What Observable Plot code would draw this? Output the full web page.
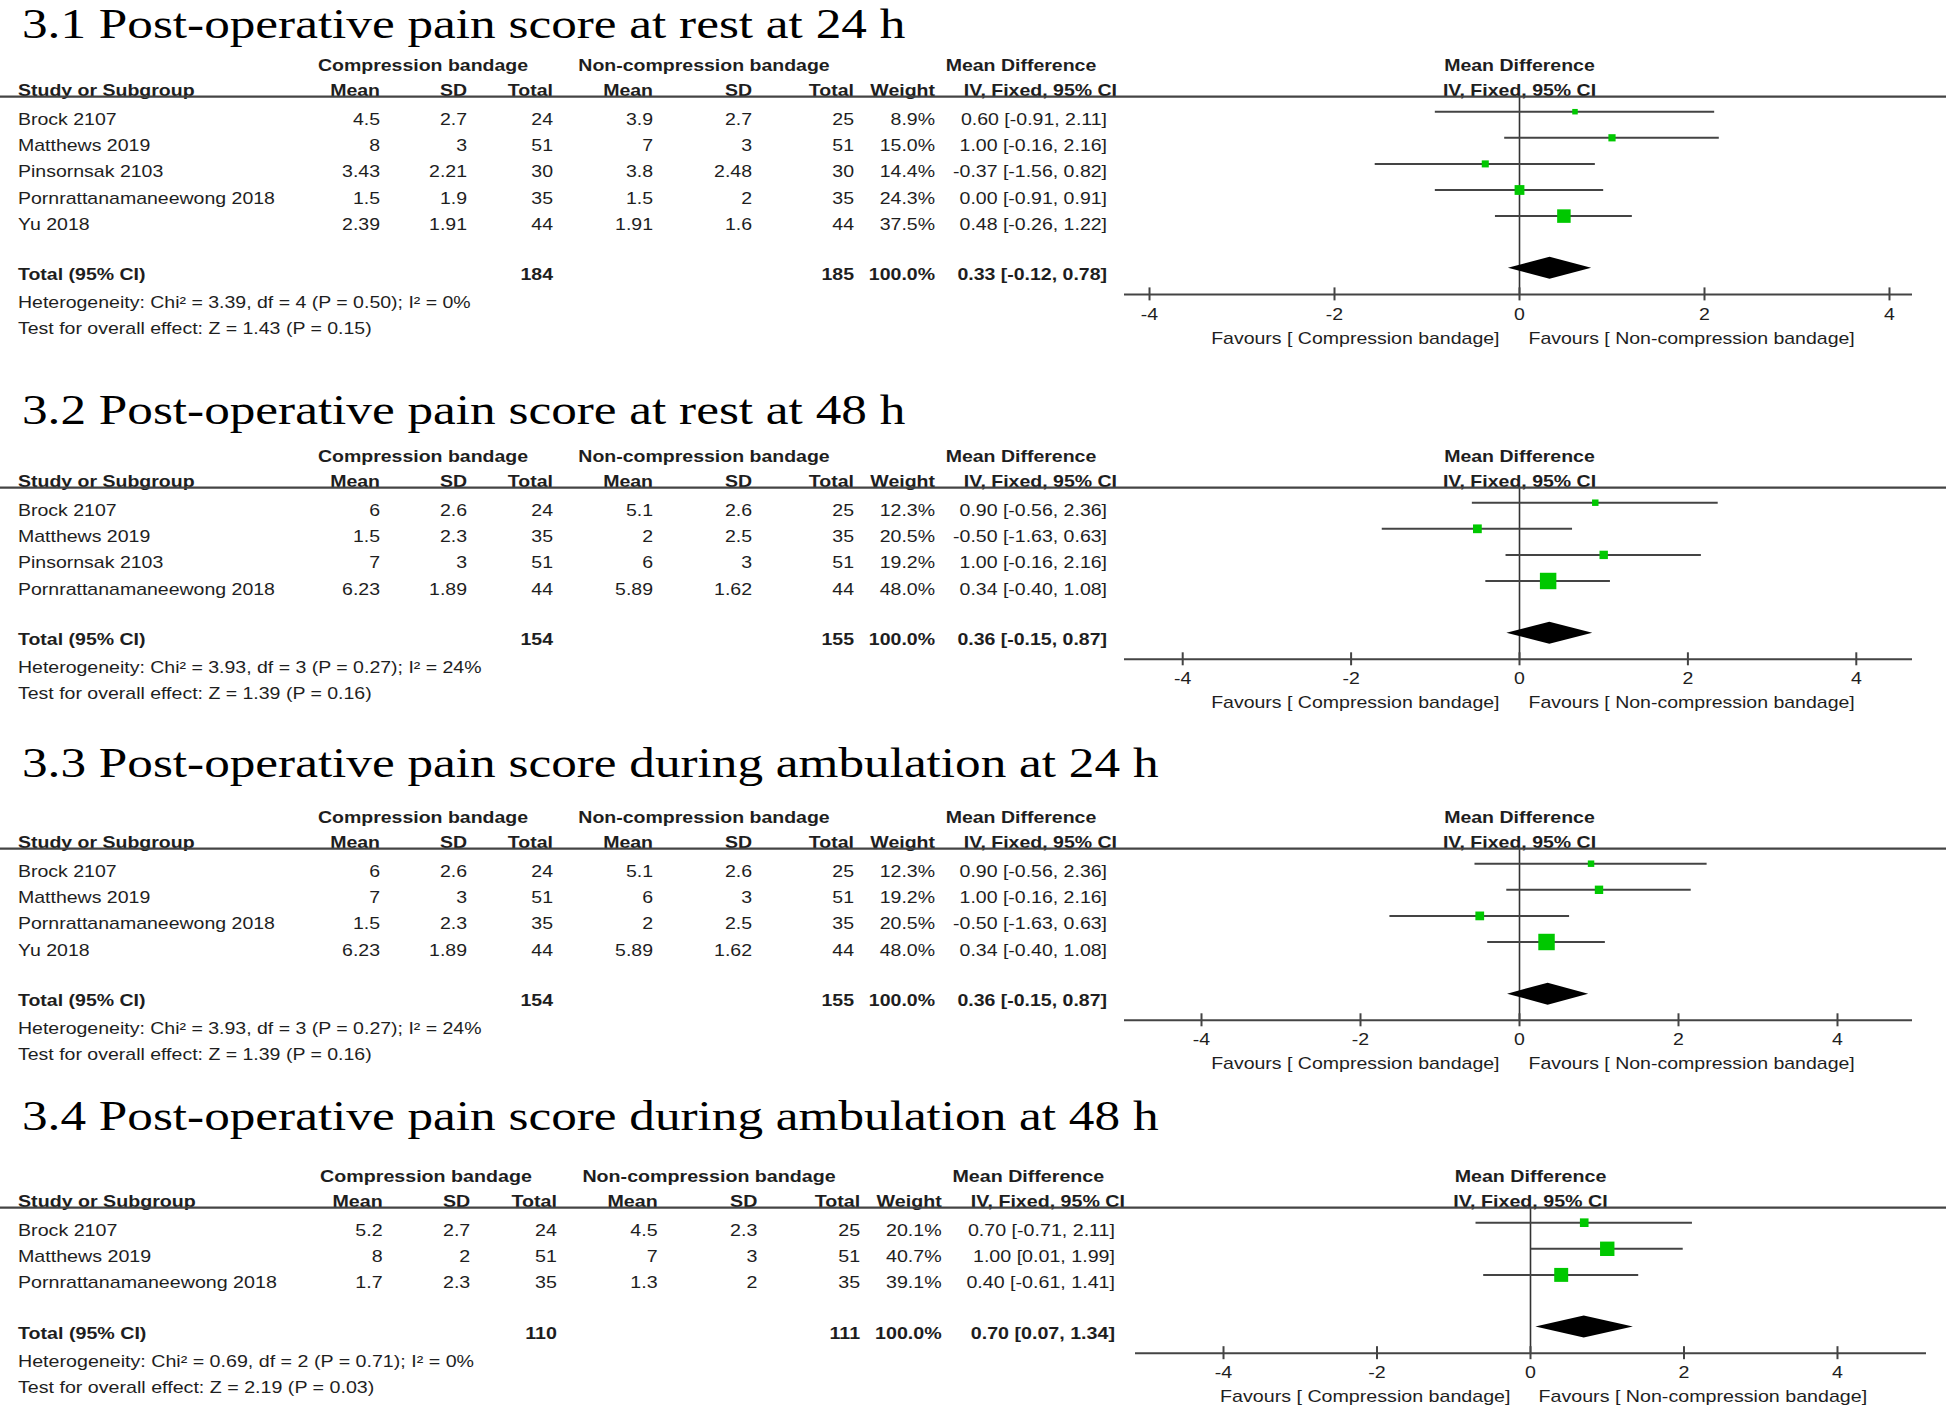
<!DOCTYPE html>
<html><head><meta charset="utf-8">
<script src="https://cdn.jsdelivr.net/npm/d3@7"></script>
<script src="https://cdn.jsdelivr.net/npm/@observablehq/plot@0.6"></script>
<style>
html,body{margin:0;padding:0;background:#fff;}
#fig{position:relative;width:1946px;height:1422px;overflow:hidden;background:#fff;}
</style></head><body><div id="fig"></div>
<script>
// ---------------- DATA ----------------
const titles = [
  "3.1 Post-operative pain score at rest at 24 h",
  "3.2 Post-operative pain score at rest at 48 h",
  "3.3 Post-operative pain score during ambulation at 24 h",
  "3.4 Post-operative pain score during ambulation at 48 h"
];
const groupHeaders = ["Compression bandage", "Non-compression bandage", "Mean Difference"];
const colHeaders = ["Study or Subgroup", "Mean", "SD", "Total", "Mean", "SD", "Total", "Weight", "IV, Fixed, 95% CI"];
const effectLabel = "Mean Difference";
const methodLabel = "IV, Fixed, 95% CI";
const totalLabel = "Total (95% CI)";
const favoursLeft = "Favours [ Compression bandage]";
const favoursRight = "Favours [ Non-compression bandage]";
const xTicks = [-4, -2, 0, 2, 4];

// 3.1
const studies1 = ["Brock 2107", "Matthews 2019", "Pinsornsak 2103", "Pornrattanamaneewong 2018", "Yu 2018"];
const compMean1 = [4.5, 8, 3.43, 1.5, 2.39];
const compSD1 = [2.7, 3, 2.21, 1.9, 1.91];
const compN1 = [24, 51, 30, 35, 44];
const nonMean1 = [3.9, 7, 3.8, 1.5, 1.91];
const nonSD1 = [2.7, 3, 2.48, 2, 1.6];
const nonN1 = [25, 51, 30, 35, 44];
const weight1 = [8.9, 15.0, 14.4, 24.3, 37.5];
const md1 = [0.60, 1.00, -0.37, 0.00, 0.48];
const lo1 = [-0.91, -0.16, -1.56, -0.91, -0.26];
const hi1 = [2.11, 2.16, 0.82, 0.91, 1.22];
const total1 = [184, 185, 100.0, 0.33, -0.12, 0.78]; // compN, nonN, weight, md, lo, hi
const het1 = "Heterogeneity: Chi\u00b2 = 3.39, df = 4 (P = 0.50); I\u00b2 = 0%";
const test1 = "Test for overall effect: Z = 1.43 (P = 0.15)";

// 3.2
const studies2 = ["Brock 2107", "Matthews 2019", "Pinsornsak 2103", "Pornrattanamaneewong 2018"];
const compMean2 = [6, 1.5, 7, 6.23];
const compSD2 = [2.6, 2.3, 3, 1.89];
const compN2 = [24, 35, 51, 44];
const nonMean2 = [5.1, 2, 6, 5.89];
const nonSD2 = [2.6, 2.5, 3, 1.62];
const nonN2 = [25, 35, 51, 44];
const weight2 = [12.3, 20.5, 19.2, 48.0];
const md2 = [0.90, -0.50, 1.00, 0.34];
const lo2 = [-0.56, -1.63, -0.16, -0.40];
const hi2 = [2.36, 0.63, 2.16, 1.08];
const total2 = [154, 155, 100.0, 0.36, -0.15, 0.87];
const het2 = "Heterogeneity: Chi\u00b2 = 3.93, df = 3 (P = 0.27); I\u00b2 = 24%";
const test2 = "Test for overall effect: Z = 1.39 (P = 0.16)";

// 3.3
const studies3 = ["Brock 2107", "Matthews 2019", "Pornrattanamaneewong 2018", "Yu 2018"];
const compMean3 = [6, 7, 1.5, 6.23];
const compSD3 = [2.6, 3, 2.3, 1.89];
const compN3 = [24, 51, 35, 44];
const nonMean3 = [5.1, 6, 2, 5.89];
const nonSD3 = [2.6, 3, 2.5, 1.62];
const nonN3 = [25, 51, 35, 44];
const weight3 = [12.3, 19.2, 20.5, 48.0];
const md3 = [0.90, 1.00, -0.50, 0.34];
const lo3 = [-0.56, -0.16, -1.63, -0.40];
const hi3 = [2.36, 2.16, 0.63, 1.08];
const total3 = [154, 155, 100.0, 0.36, -0.15, 0.87];
const het3 = "Heterogeneity: Chi\u00b2 = 3.93, df = 3 (P = 0.27); I\u00b2 = 24%";
const test3 = "Test for overall effect: Z = 1.39 (P = 0.16)";

// 3.4
const studies4 = ["Brock 2107", "Matthews 2019", "Pornrattanamaneewong 2018"];
const compMean4 = [5.2, 8, 1.7];
const compSD4 = [2.7, 2, 2.3];
const compN4 = [24, 51, 35];
const nonMean4 = [4.5, 7, 1.3];
const nonSD4 = [2.3, 3, 2];
const nonN4 = [25, 51, 35];
const weight4 = [20.1, 40.7, 39.1];
const md4 = [0.70, 1.00, 0.40];
const lo4 = [-0.71, 0.01, -0.61];
const hi4 = [2.11, 1.99, 1.41];
const total4 = [110, 111, 100.0, 0.70, 0.07, 1.34];
const het4 = "Heterogeneity: Chi\u00b2 = 0.69, df = 2 (P = 0.71); I\u00b2 = 0%";
const test4 = "Test for overall effect: Z = 2.19 (P = 0.03)";

// ---------------- LAYOUT ----------------
const W = 1946, H = 1422;
const SANS = "'Liberation Sans', Arial, Helvetica, sans-serif";
const SERIF = "'Liberation Serif', 'Times New Roman', Times, serif";
const INK = "#1e1e1e";
const LINE = "#444";
const GREEN = "#00c800";
const FS = 16, STRETCH = 1.22;
const TITLE_FS = 42, TITLE_X = 22;
const PITCH = 26.1, ROW0 = 111.2, TEXT_DY = 8.3;
const HEAD1 = 65, HEAD2 = 90.5, RULE = 96.7;
const TOTAL_SHIFT = -1.5, HET_GAP = 27.8, TEST_GAP = 25.6;
const TICK = 6.5, TICKLAB = 20, FAVLAB = 44;
const DIAMOND_H = 11;
const FOREST_X0 = 1100, FOREST_TOP = 40, FOREST_BOTTOM = 60;

const panelTop = [0, 391, 752, 1111];
const titleBase = [38, 424, 777, 1130];
const colScale = [1, 1, 1, 1.0073];
const forestZero = [1519, 1519, 1519, 1530];
const forestUnit = [92.5, 84.2, 79.5, 76.75];
const forestLeft = [1124, 1124, 1124, 1135];
const forestRight = [1912, 1912, 1912, 1926];
const favGapL = [20, 20, 20, 20];
const favGapR = [9, 9, 9, 8];
const colX = {study: 18, cMean: 380, cSD: 467, cN: 553, nMean: 653, nSD: 752, nN: 854, weight: 935,
  ci: 1107, ciHead: 1117, compHead: 423, nonHead: 704, mdHead: 1021};

const panels = [
  {studies: studies1, cm: compMean1, cs: compSD1, cn: compN1, nm: nonMean1, ns: nonSD1, nn: nonN1, w: weight1, md: md1, lo: lo1, hi: hi1, total: total1, het: het1, test: test1},
  {studies: studies2, cm: compMean2, cs: compSD2, cn: compN2, nm: nonMean2, ns: nonSD2, nn: nonN2, w: weight2, md: md2, lo: lo2, hi: hi2, total: total2, het: het2, test: test2},
  {studies: studies3, cm: compMean3, cs: compSD3, cn: compN3, nm: nonMean3, ns: nonSD3, nn: nonN3, w: weight3, md: md3, lo: lo3, hi: hi3, total: total3, het: het3, test: test3},
  {studies: studies4, cm: compMean4, cs: compSD4, cn: compN4, nm: nonMean4, ns: nonSD4, nn: nonN4, w: weight4, md: md4, lo: lo4, hi: hi4, total: total4, het: het4, test: test4}
];

const fig = d3.select("#fig");
const f2 = v => v.toFixed(2);
const ciText = (m, l, h) => `${f2(m)} [${f2(l)}, ${f2(h)}]`;

function stretchTexts(svgNode, k) {
  svgNode.querySelectorAll("text").forEach(t => {
    const tr = t.getAttribute("transform");
    if (tr) t.setAttribute("transform", tr + ` scale(${k},1)`);
    else {
      const x = +t.getAttribute("x") || 0, y = +t.getAttribute("y") || 0;
      t.removeAttribute("x"); t.removeAttribute("y");
      t.setAttribute("transform", `translate(${x},${y}) scale(${k},1)`);
    }
  });
}

// ---------------- FOREST PLOTS (Observable Plot) ----------------
panels.forEach((pd, p) => {
  const rows = pd.studies.map((s, i) => ({i, study: s, md: pd.md[i], lo: pd.lo[i], hi: pd.hi[i], w: pd.w[i]}));
  const n = rows.length, totIdx = n + 1, axisIdx = n + 2;
  const [, , , tmd, tlo, thi] = pd.total;
  const dh = DIAMOND_H / PITCH;
  const diamond = [
    {x: tlo, y1: totIdx, y2: totIdx},
    {x: tmd, y1: totIdx - dh, y2: totIdx + dh},
    {x: thi, y1: totIdx, y2: totIdx}
  ];
  const xDom = [(forestLeft[p] - forestZero[p]) / forestUnit[p], (forestRight[p] - forestZero[p]) / forestUnit[p]];
  const mTop = ROW0 - FOREST_TOP;
  const height = mTop + PITCH * axisIdx + FOREST_BOTTOM;
  const width = W - FOREST_X0;
  const plot = Plot.plot({
    width, height,
    marginLeft: forestLeft[p] - FOREST_X0, marginRight: W - forestRight[p],
    marginTop: mTop, marginBottom: FOREST_BOTTOM,
    x: {domain: xDom, range: [forestLeft[p] - FOREST_X0, forestRight[p] - FOREST_X0], axis: null},
    y: {domain: [0, axisIdx], range: [mTop, mTop + PITCH * axisIdx], axis: null},
    r: {type: "linear", domain: [0, 100], range: [1.7, 17.5]},
    style: {background: "transparent", fontFamily: SANS, fontSize: FS + "px", color: INK, overflow: "visible"},
    marks: [
      Plot.ruleX([0], {y1: () => (RULE - ROW0) / PITCH, y2: () => axisIdx, stroke: "#333", strokeWidth: 1.6}),
      Plot.ruleY(rows, {y: "i", x1: "lo", x2: "hi", stroke: LINE, strokeWidth: 2}),
      Plot.dot(rows, {x: "md", y: "i", r: "w", symbol: "square", fill: GREEN}),
      Plot.areaY(diamond, {x: "x", y1: "y1", y2: "y2", fill: "black", curve: "linear"}),
      Plot.ruleY([axisIdx], {x1: () => xDom[0], x2: () => xDom[1], stroke: LINE, strokeWidth: 2}),
      Plot.ruleX(xTicks, {x: d => d, y1: () => axisIdx - TICK / PITCH, y2: () => axisIdx + TICK / PITCH, stroke: LINE, strokeWidth: 2}),
      Plot.text(xTicks, {x: d => d, y: () => axisIdx + TICKLAB / PITCH, text: d => String(d)}),
      Plot.text([favoursLeft], {x: () => 0, y: () => axisIdx + FAVLAB / PITCH, dx: -favGapL[p], textAnchor: "end"}),
      Plot.text([favoursRight], {x: () => 0, y: () => axisIdx + FAVLAB / PITCH, dx: favGapR[p], textAnchor: "start"}),
      Plot.text([effectLabel], {x: () => 0, y: () => (HEAD1 - ROW0) / PITCH, fontWeight: "bold"}),
      Plot.text([methodLabel], {x: () => 0, y: () => (HEAD2 - ROW0) / PITCH, fontWeight: "bold"})
    ]
  });
  stretchTexts(plot, STRETCH * colScale[p]);
  fig.append("div")
    .style("position", "absolute")
    .style("left", FOREST_X0 + "px")
    .style("top", (panelTop[p] + FOREST_TOP) + "px")
    .style("width", width + "px")
    .node().append(plot);
});

// ---------------- TABLE TEXT OVERLAY ----------------
const svg = fig.append("svg")
  .attr("width", W).attr("height", H)
  .style("position", "absolute").style("left", 0).style("top", 0)
  .style("pointer-events", "none");

function txt(x, yc, s, o = {}) {
  const size = o.size || FS;
  const y = o.baseline != null ? o.baseline : yc + size * 0.716 / 2;
  const k = o.k || STRETCH;
  svg.append("text")
    .attr("transform", `translate(${x},${y}) scale(${k},1)`)
    .attr("text-anchor", o.anchor || "start")
    .attr("font-family", o.family || SANS)
    .attr("font-size", size)
    .attr("font-weight", o.bold ? "bold" : null)
    .attr("fill", o.fill || INK)
    .text(s);
}

panels.forEach((pd, p) => {
  const P = panelTop[p], sc = colScale[p], k = STRETCH * sc;
  const cx = key => colX.study + (colX[key] - colX.study) * sc;
  const rowC = i => P + ROW0 + PITCH * i + TEXT_DY;
  const n = pd.studies.length;

  txt(TITLE_X, null, titles[p], {family: SERIF, size: TITLE_FS, baseline: titleBase[p], fill: "#000"});

  txt(cx("compHead"), P + HEAD1, groupHeaders[0], {anchor: "middle", bold: true, k});
  txt(cx("nonHead"), P + HEAD1, groupHeaders[1], {anchor: "middle", bold: true, k});
  txt(cx("mdHead"), P + HEAD1, groupHeaders[2], {anchor: "middle", bold: true, k});

  const hdrKeys = ["study", "cMean", "cSD", "cN", "nMean", "nSD", "nN", "weight", "ciHead"];
  colHeaders.forEach((h, j) => {
    txt(cx(hdrKeys[j]), P + HEAD2, h, {anchor: j === 0 ? "start" : "end", bold: true, k});
  });

  svg.append("line").attr("x1", 0).attr("x2", W)
    .attr("y1", P + RULE).attr("y2", P + RULE)
    .attr("stroke", LINE).attr("stroke-width", 2.2);

  pd.studies.forEach((s, i) => {
    const y = rowC(i);
    txt(cx("study"), y, s, {k});
    txt(cx("cMean"), y, String(pd.cm[i]), {anchor: "end", k});
    txt(cx("cSD"), y, String(pd.cs[i]), {anchor: "end", k});
    txt(cx("cN"), y, String(pd.cn[i]), {anchor: "end", k});
    txt(cx("nMean"), y, String(pd.nm[i]), {anchor: "end", k});
    txt(cx("nSD"), y, String(pd.ns[i]), {anchor: "end", k});
    txt(cx("nN"), y, String(pd.nn[i]), {anchor: "end", k});
    txt(cx("weight"), y, pd.w[i].toFixed(1) + "%", {anchor: "end", k});
    txt(cx("ci"), y, ciText(pd.md[i], pd.lo[i], pd.hi[i]), {anchor: "end", k});
  });

  const ty = rowC(n + 1) + TOTAL_SHIFT;
  const [tcn, tnn, tw, tmd, tlo, thi] = pd.total;
  txt(cx("study"), ty, totalLabel, {bold: true, k});
  txt(cx("cN"), ty, String(tcn), {anchor: "end", bold: true, k});
  txt(cx("nN"), ty, String(tnn), {anchor: "end", bold: true, k});
  txt(cx("weight"), ty, tw.toFixed(1) + "%", {anchor: "end", bold: true, k});
  txt(cx("ci"), ty, ciText(tmd, tlo, thi), {anchor: "end", bold: true, k});
  txt(cx("study"), ty + HET_GAP, pd.het, {k});
  txt(cx("study"), ty + HET_GAP + TEST_GAP, pd.test, {k});
});
</script></body></html>
